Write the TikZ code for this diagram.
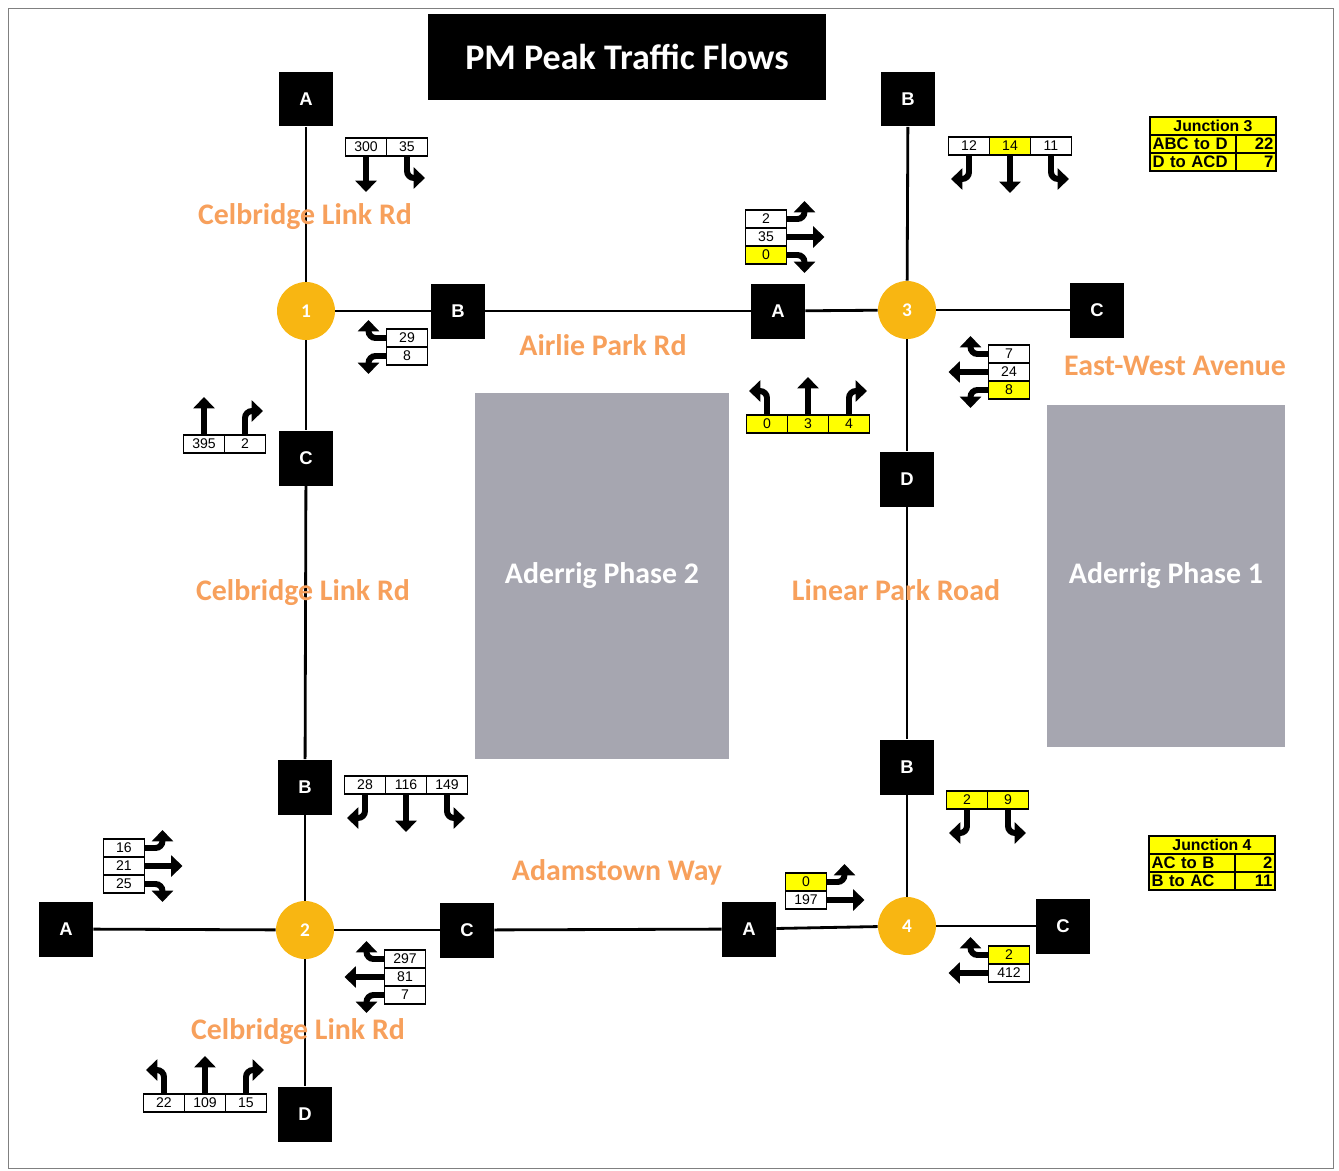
\documentclass[tikz,border=0pt]{standalone}
\usepackage{fontspec}
\setmainfont{Carlito}
\newfontfamily\arialf{Liberation Sans}
\usetikzlibrary{arrows.meta,positioning}
\definecolor{jaune}{RGB}{255,255,0}
\definecolor{orangerond}{RGB}{248,182,18}
\definecolor{orangetexte}{RGB}{247,160,92}
\definecolor{grisbloc}{RGB}{166,166,176}
\begin{document}
\begin{tikzpicture}[x=0.02cm, y=-0.02cm,
	route/.style={line width=1.6pt},
	bout/.style={fill=black, text=white, minimum width=1.08cm, minimum height=1.1cm, inner sep=0, font=\arialf\fontsize{10.5}{12}\selectfont\bfseries},
	carrefour/.style={circle, fill=orangerond, text=white, minimum size=1.16cm, inner sep=0, font=\fontsize{11}{12}\selectfont\bfseries},
	nomrue/.style={text=orangetexte, inner sep=0, font=\fontsize{17}{20}\selectfont\bfseries},
	bloc/.style={fill=grisbloc, text=white, font=\fontsize{17}{20}\selectfont\bfseries},
	cpt/.style={draw, line width=1pt, fill=white, outer sep=0, inner sep=0, minimum width=0.82cm, minimum height=0.36cm, font=\arialf\fontsize{8}{9}\selectfont},
	cptj/.style={cpt, fill=jaune},
	flux/.style={line width=3.4pt, rounded corners=4pt, -{Triangle[length=6.5pt,width=12pt]}},
	tabl/.style={draw, line width=1.1pt, fill=jaune, outer sep=0, inner ysep=0, inner xsep=0.05cm, minimum height=0.36cm, font=\arialf\fontsize{9.5}{10}\selectfont\bfseries},
	]
	\useasboundingbox (0,0) rectangle (1339,1170);
	\draw[gray, line width=0.5pt] (8,8) rectangle (1333,1168);
	\node[fill=black, minimum width=7.96cm, minimum height=1.72cm, text=white, font=\fontsize{20.5}{24}\selectfont\bfseries] (titre) at (627,57) {PM Peak Traffic Flows};
	\node[bloc, minimum width=5.1cm, minimum height=7.34cm] (ph2) at (602,576) {Aderrig Phase 2};
	\node[bloc, minimum width=4.78cm, minimum height=6.84cm] (ph1) at (1166,576) {Aderrig Phase 1};
	%carrefours
	\node[carrefour] (J1) at (306,311) {1};
	\node[bout] (A1) at (306,99) {A};
	\node[bout] (B1) at (458,311) {B};
	\node[bout] (C1) at (306,458) {C};
	\node[carrefour] (J3) at (907,310) {3};
	\node[bout] (B3) at (908,99) {B};
	\node[bout] (A3) at (778,311) {A};
	\node[bout] (C3) at (1097,310) {C};
	\node[bout] (D3) at (907,479) {D};
	\node[carrefour] (J2) at (305,930) {2};
	\node[bout] (B2) at (305,787) {B};
	\node[bout] (A2) at (66,929) {A};
	\node[bout] (C2) at (467,930) {C};
	\node[bout] (D2) at (305,1114) {D};
	\node[carrefour] (J4) at (907,926) {4};
	\node[bout] (B4) at (907,767) {B};
	\node[bout] (A4) at (749,929) {A};
	\node[bout] (C4) at (1063,926) {C};
	%routes
	\draw[route] (J1) -- (A1);
	\draw[route] (J1) -- (B1);
	\draw[route] (J1) -- (C1);
	\draw[route] (B1) -- (A3);
	\draw[route] (A3) -- (J3);
	\draw[route] (J3) -- (B3);
	\draw[route] (J3) -- (C3);
	\draw[route] (J3) -- (D3);
	\draw[route] (D3) -- (B4);
	\draw[route] (B4) -- (J4);
	\draw[route] (J4) -- (C4);
	\draw[route] (A4) -- (J4);
	\draw[route] (C2) -- (A4);
	\draw[route] (J2) -- (C2);
	\draw[route] (A2) -- (J2);
	\draw[route] (B2) -- (J2);
	\draw[route] (J2) -- (D2);
	\draw[route] (C1) -- (B2);
	%noms des rues
	\node[nomrue] (rue1) at (305,217) {Celbridge Link Rd};
	\node[nomrue] (rue2) at (303,593) {Celbridge Link Rd};
	\node[nomrue] (rue3) at (298,1032) {Celbridge Link Rd};
	\node[nomrue] (rue4) at (603,345) {Airlie Park Rd};
	\node[nomrue] (rue5) at (1175,366) {East-West Avenue};
	\node[nomrue] (rue6) at (896,590) {Linear Park Road};
	\node[nomrue] (rue7) at (617,872) {Adamstown Way};
	%comptages carrefour 1
	\node[cpt] (c1a) at (366,147) {300};
	\node[cpt, right=0pt of c1a] (c1b) {35};
	\draw[flux] (c1a.south) -- ++(0,36);
	\draw[flux] (c1b.south) -- ++(0,22) -- ++(18,0);
	\node[cpt] (c1c) at (407,338) {29};
	\node[cpt, below=0pt of c1c] (c1d) {8};
	\draw[flux] (c1c.west) -- ++(-18,0) -- ++(0,-18);
	\draw[flux] (c1d.west) -- ++(-18,0) -- ++(0,18);
	\node[cpt] (c1e) at (204,444) {395};
	\node[cpt, right=0pt of c1e] (c1f) {2};
	\draw[flux] (c1e.north) -- ++(0,-38);
	\draw[flux] (c1f.north) -- ++(0,-24) -- ++(18,0);
	%comptages carrefour 3
	\node[cpt] (c3a) at (969,146) {12};
	\node[cptj, right=0pt of c3a] (c3b) {14};
	\node[cpt, right=0pt of c3b] (c3c) {11};
	\draw[flux] (c3a.south) -- ++(0,24) -- ++(-18,0);
	\draw[flux] (c3b.south) -- ++(0,38);
	\draw[flux] (c3c.south) -- ++(0,24) -- ++(18,0);
	\node[cpt] (c3d) at (766,219) {2};
	\node[cpt, below=0pt of c3d] (c3e) {35};
	\node[cptj, below=0pt of c3e] (c3f) {0};
	\draw[flux] (c3d.east) -- ++(18,0) -- ++(0,-18);
	\draw[flux] (c3e.east) -- ++(38,0);
	\draw[flux] (c3f.east) -- ++(18,0) -- ++(0,18);
	\node[cpt] (c3g) at (1009,354) {7};
	\node[cpt, below=0pt of c3g] (c3h) {24};
	\node[cptj, below=0pt of c3h] (c3i) {8};
	\draw[flux] (c3g.west) -- ++(-18,0) -- ++(0,-18);
	\draw[flux] (c3h.west) -- ++(-40,0);
	\draw[flux] (c3i.west) -- ++(-18,0) -- ++(0,18);
	\node[cptj] (c3j) at (767,424) {0};
	\node[cptj, right=0pt of c3j] (c3k) {3};
	\node[cptj, right=0pt of c3k] (c3l) {4};
	\draw[flux] (c3j.north) -- ++(0,-24) -- ++(-18,0);
	\draw[flux] (c3k.north) -- ++(0,-38);
	\draw[flux] (c3l.north) -- ++(0,-24) -- ++(18,0);
	%comptages carrefour 2
	\node[cpt] (c2a) at (365,785) {28};
	\node[cpt, right=0pt of c2a] (c2b) {116};
	\node[cpt, right=0pt of c2b] (c2c) {149};
	\draw[flux] (c2a.south) -- ++(0,24) -- ++(-18,0);
	\draw[flux] (c2b.south) -- ++(0,38);
	\draw[flux] (c2c.south) -- ++(0,24) -- ++(18,0);
	\node[cpt] (c2d) at (124,848) {16};
	\node[cpt, below=0pt of c2d] (c2e) {21};
	\node[cpt, below=0pt of c2e] (c2f) {25};
	\draw[flux] (c2d.east) -- ++(18,0) -- ++(0,-18);
	\draw[flux] (c2e.east) -- ++(38,0);
	\draw[flux] (c2f.east) -- ++(18,0) -- ++(0,18);
	\node[cpt] (c2g) at (405,959) {297};
	\node[cpt, below=0pt of c2g] (c2h) {81};
	\node[cpt, below=0pt of c2h] (c2i) {7};
	\draw[flux] (c2g.west) -- ++(-18,0) -- ++(0,-18);
	\draw[flux] (c2h.west) -- ++(-40,0);
	\draw[flux] (c2i.west) -- ++(-18,0) -- ++(0,18);
	\node[cpt] (c2j) at (164,1103) {22};
	\node[cpt, right=0pt of c2j] (c2k) {109};
	\node[cpt, right=0pt of c2k] (c2l) {15};
	\draw[flux] (c2j.north) -- ++(0,-24) -- ++(-18,0);
	\draw[flux] (c2k.north) -- ++(0,-38);
	\draw[flux] (c2l.north) -- ++(0,-24) -- ++(18,0);
	%comptages carrefour 4
	\node[cptj] (c4a) at (967,800) {2};
	\node[cptj, right=0pt of c4a] (c4b) {9};
	\draw[flux] (c4a.south) -- ++(0,24) -- ++(-18,0);
	\draw[flux] (c4b.south) -- ++(0,24) -- ++(18,0);
	\node[cptj] (c4c) at (806,882) {0};
	\node[cpt, below=0pt of c4c] (c4d) {197};
	\draw[flux] (c4c.east) -- ++(18,0) -- ++(0,-18);
	\draw[flux] (c4d.east) -- ++(38,0);
	\node[cptj] (c4e) at (1009,955) {2};
	\node[cpt, below=0pt of c4e] (c4f) {412};
	\draw[flux] (c4e.west) -- ++(-18,0) -- ++(0,-18);
	\draw[flux] (c4f.west) -- ++(-40,0);
	%tableaux
	\node[tabl, minimum width=2.52cm, font=\arialf\fontsize{9}{10}\selectfont\bfseries] (t3) at (1213,126) {Junction 3};
	\node[tabl, text width=1.62cm, align=left, anchor=north west] (t3a) at (t3.south west) {ABC to D};
	\node[tabl, text width=0.7cm, align=right, right=0pt of t3a] (t3b) {22};
	\node[tabl, text width=1.62cm, align=left, below=0pt of t3a] (t3c) {D to ACD};
	\node[tabl, text width=0.7cm, align=right, right=0pt of t3c] (t3d) {7};
	\node[tabl, minimum width=2.52cm, font=\arialf\fontsize{9}{10}\selectfont\bfseries] (t4) at (1212,845) {Junction 4};
	\node[tabl, text width=1.62cm, align=left, anchor=north west] (t4a) at (t4.south west) {AC to B};
	\node[tabl, text width=0.7cm, align=right, right=0pt of t4a] (t4b) {2};
	\node[tabl, text width=1.62cm, align=left, below=0pt of t4a] (t4c) {B to AC};
	\node[tabl, text width=0.7cm, align=right, right=0pt of t4c] (t4d) {11};
\end{tikzpicture}
\end{document}
